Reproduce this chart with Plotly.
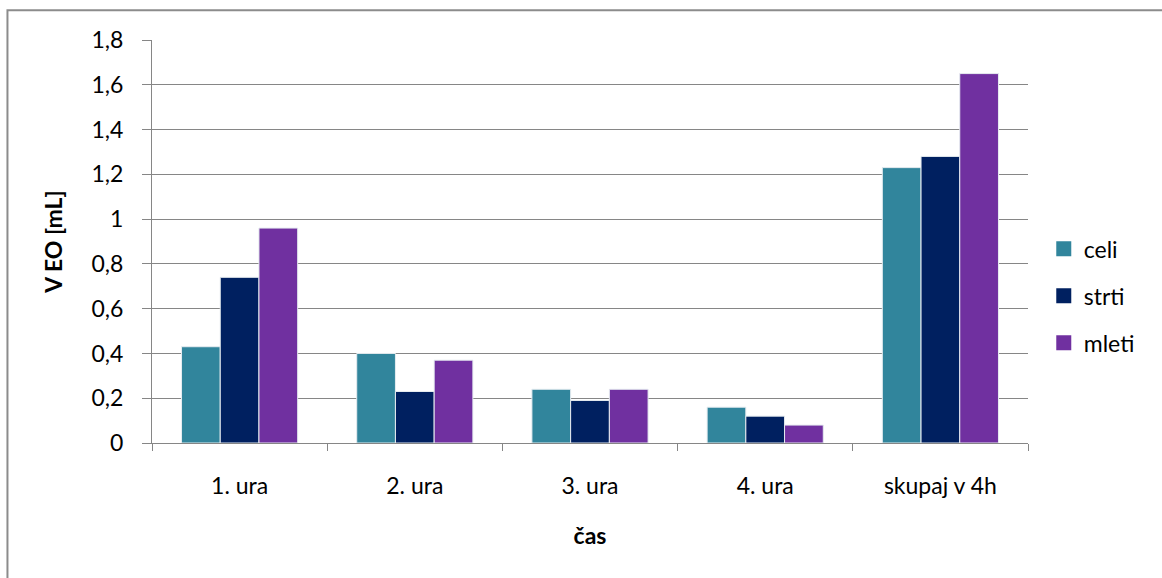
import plotly.graph_objects as go

# Oil volume per hour for three grind levels
categories = ["1. ura", "2. ura", "3. ura", "4. ura", "skupaj v 4h"]
celi = [0.43, 0.40, 0.24, 0.16, 1.23]
strti = [0.74, 0.23, 0.19, 0.12, 1.28]
mleti = [0.96, 0.37, 0.24, 0.08, 1.65]

series = [
    ("celi", celi, "#31859C"),
    ("strti", strti, "#002060"),
    ("mleti", mleti, "#7030A0"),
]

FONT = "Lato, 'Open Sans', sans-serif"
GRAY = "#868686"
SIZE = 23

fig = go.Figure()
for i, (name, vals, color) in enumerate(series):
    fig.add_trace(go.Bar(
        x=categories, y=vals, name=name, showlegend=False,
        marker=dict(color=color, line=dict(color="#E6ECF0", width=1)),
    ))
    # legend key: square swatch
    fig.add_trace(go.Scatter(
        x=[None], y=[None], name=name, mode="markers",
        marker=dict(symbol="square", size=15, color=color),
        legendgroup=f"g{i}",
    ))

fig.update_layout(
    width=1162, height=578,
    margin=dict(l=152, r=134, t=40, b=135),
    paper_bgcolor="white", plot_bgcolor="white",
    separators=",.",
    barmode="group", bargap=0.337, bargroupgap=0,
    font=dict(family=FONT, size=SIZE, color="#000000"),
    showlegend=True,
    legend=dict(
        x=1.018, xanchor="left", y=0.365, yanchor="middle",
        font=dict(family=FONT, size=SIZE), tracegroupgap=14,
        itemwidth=30, bgcolor="rgba(0,0,0,0)",
    ),
    xaxis=dict(
        title=dict(text="<b>čas</b>", font=dict(size=SIZE), standoff=30),
        tickfont=dict(size=SIZE),
        showline=True, linecolor=GRAY, linewidth=1,
        ticks="outside", tickson="boundaries", ticklen=7, tickcolor=GRAY,
        showgrid=False, ticklabelstandoff=22,
    ),
    yaxis=dict(
        title=dict(text="<b>V EO [mL]</b>", font=dict(size=SIZE), standoff=22),
        tickfont=dict(size=SIZE),
        range=[0, 1.8], dtick=0.2, tick0=0,
        showline=True, linecolor=GRAY, linewidth=1,
        ticks="outside", ticklen=9, tickcolor=GRAY,
        showgrid=True, gridcolor=GRAY, gridwidth=1,
        zeroline=False, ticklabelstandoff=14,
    ),
    shapes=[
        # chart frame (extends past the bottom/right of the page)
        dict(type="rect", xref="paper", yref="paper",
             x0=-0.165, x1=1.4, y0=-0.5, y1=1.074,
             line=dict(color="#8C8C8C", width=2), fillcolor="rgba(0,0,0,0)",
             layer="below"),
    ],
)

fig.write_html("out.html")
